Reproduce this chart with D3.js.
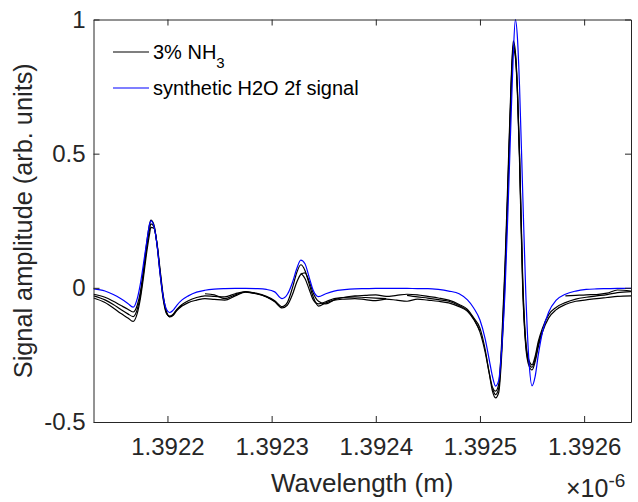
<!DOCTYPE html>
<html>
<head>
<meta charset="utf-8">
<script src="https://cdn.jsdelivr.net/npm/d3@7"></script>
<style>
    body { margin: 0; background: #fff; }
    svg { display: block; font-family: "Liberation Sans", Arial, Helvetica, sans-serif; }
    .axis path, .axis line { stroke: #262626; stroke-width: 1; }
    .axis text { fill: #262626; font-size: 24px; }
    .line { fill: none; stroke-width: 1.2; }
</style>
</head>
<body>
<div class="lineChart"></div>
<script>
const WIDTH = 638;
const HEIGHT = 502;
const MARGIN = {top: 19.5, right: 7, bottom: 80, left: 93.5};

const INNER_WIDTH = WIDTH - MARGIN.left - MARGIN.right;
const INNER_HEIGHT = HEIGHT - MARGIN.top - MARGIN.bottom;

// wavelength in units of 1e-6 m
var wavelength = [
    1.392129, 1.39214, 1.392148, 1.392155, 1.392162, 1.392167, 1.392171, 1.392174, 1.392177, 1.39218,
    1.392183, 1.392184, 1.392187, 1.39219, 1.392193, 1.392196, 1.392199, 1.392202, 1.392205, 1.392209,
    1.392214, 1.39222, 1.392228, 1.392236, 1.392245, 1.392255, 1.392265, 1.392275, 1.392285, 1.392295,
    1.392303, 1.39231, 1.392315, 1.39232, 1.392324, 1.392328, 1.392332, 1.392336, 1.39234, 1.392345,
    1.392352, 1.39236, 1.39237, 1.39238, 1.39239, 1.3924, 1.39241, 1.39242, 1.39243, 1.39244,
    1.39245, 1.39246, 1.39247, 1.39248, 1.392488, 1.392494, 1.3925, 1.392505, 1.392509, 1.392512,
    1.392515, 1.392518, 1.392521, 1.392524, 1.392527, 1.39253, 1.392532, 1.392534, 1.392536, 1.392538,
    1.392541, 1.392544, 1.392547, 1.39255, 1.392553, 1.392556, 1.39256, 1.392566, 1.392573, 1.392582,
    1.392592, 1.392602, 1.392612, 1.392622, 1.392632, 1.392645
];

var synthH2O = [
    -0.004, -0.012, -0.025, -0.04, -0.058, -0.072, -0.04, 0.015, 0.09, 0.17,
    0.24, 0.25, 0.23, 0.16, 0.05, -0.035, -0.08, -0.092, -0.085, -0.065,
    -0.045, -0.03, -0.016, -0.009, -0.005, -0.003, -0.002, -0.002, -0.003, -0.006,
    -0.015, -0.04, -0.025, 0.02, 0.07, 0.103, 0.09, 0.04, -0.01, -0.033,
    -0.022, -0.012, -0.007, -0.004, -0.003, -0.002, -0.002, -0.002, -0.002, -0.003,
    -0.003, -0.006, -0.012, -0.022, -0.045, -0.075, -0.12, -0.19, -0.27, -0.33,
    -0.366, -0.345, -0.22, -0.02, 0.3, 0.65, 0.87, 1.0, 0.93, 0.75,
    0.36, -0.02, -0.27, -0.365, -0.33, -0.25, -0.165, -0.09, -0.047, -0.024,
    -0.012, -0.006, -0.004, -0.003, -0.002, -0.002
];

var nh3RunA = [
    -0.024, -0.035, -0.05, -0.065, -0.08, -0.09, -0.065, -0.015, 0.07, 0.165,
    0.24, 0.252, 0.235, 0.16, 0.05, -0.045, -0.095, -0.105, -0.1, -0.08,
    -0.062, -0.048, -0.036, -0.03, -0.032, -0.034, -0.022, -0.014, -0.02, -0.032,
    -0.048, -0.07, -0.055, 0.0, 0.055, 0.086, 0.065, 0.015, -0.035, -0.068,
    -0.056, -0.046, -0.042, -0.04, -0.044, -0.048, -0.042, -0.046, -0.05, -0.042,
    -0.046, -0.05, -0.056, -0.07, -0.088, -0.118, -0.165, -0.24, -0.32, -0.37,
    -0.385, -0.36, -0.19, 0.08, 0.43, 0.78, 0.92, 0.88, 0.74, 0.5,
    0.04, -0.2, -0.27, -0.287, -0.255, -0.2, -0.15, -0.1, -0.073, -0.055,
    -0.042, -0.035, -0.03, -0.025, -0.018, -0.014
];

var nh3RunB = [
    -0.038, -0.055, -0.075, -0.095, -0.112, -0.125, -0.095, -0.04, 0.04, 0.13,
    0.205, 0.225, 0.222, 0.165, 0.065, -0.03, -0.088, -0.108, -0.104, -0.085,
    -0.068, -0.055, -0.046, -0.04, -0.043, -0.046, -0.03, -0.016, -0.022, -0.034,
    -0.052, -0.075, -0.065, -0.025, 0.02, 0.05, 0.056, 0.025, -0.02, -0.05,
    -0.06, -0.045, -0.035, -0.03, -0.028, -0.026, -0.032, -0.028, -0.024, -0.026,
    -0.032, -0.038, -0.046, -0.062, -0.08, -0.112, -0.15, -0.23, -0.32, -0.385,
    -0.41, -0.39, -0.24, 0.03, 0.38, 0.74, 0.89, 0.86, 0.72, 0.47,
    0.0, -0.22, -0.29, -0.306, -0.275, -0.22, -0.165, -0.112, -0.082, -0.062,
    -0.05, -0.045, -0.04, -0.036, -0.032, -0.03
];

// third run has dropouts (null)
var nh3RunC = [
    -0.03, -0.045, -0.062, -0.08, -0.097, -0.107, -0.08, -0.028, 0.055, 0.148,
    0.222, 0.238, 0.228, 0.162, 0.058, -0.038, -0.092, -0.107, -0.102, -0.082,
    -0.065, null, null, -0.022, -0.026, -0.04, -0.026, -0.015, -0.021, -0.033,
    -0.05, null, null, null, null, 0.055, 0.035, -0.005, -0.045, -0.06,
    -0.052, -0.04, -0.036, -0.034, -0.036, -0.038, -0.04, null, -0.028, -0.034,
    -0.038, -0.044, -0.05, -0.066, -0.085, -0.115, -0.16, null, null, -0.375,
    -0.398, -0.375, -0.215, 0.055, 0.4, 0.76, 0.905, 0.87, 0.73, 0.49,
    0.02, -0.21, -0.28, -0.296, -0.265, -0.21, -0.158, null, null, -0.03,
    -0.028, -0.026, -0.025, -0.02, -0.008, -0.012
];

var xTicks = [1.3922, 1.3923, 1.3924, 1.3925, 1.3926];
var yTicks = [-0.5, 0, 0.5, 1];
var legendLabels = ["3% NH", "synthetic H2O 2f signal"];

var xScale = d3.scaleLinear().range([0, INNER_WIDTH]).domain([1.392129, 1.392645]);
var yScale = d3.scaleLinear().range([INNER_HEIGHT, 0]).domain([-0.5, 1]);

function setupSvg() {
    var svg = d3.select('.lineChart').append('svg')
        .attr('width', WIDTH)
        .attr('height', HEIGHT);
    svg.append('defs').append('clipPath').attr('id', 'plotClip')
        .append('rect').attr('x', 0).attr('y', -1).attr('width', INNER_WIDTH).attr('height', INNER_HEIGHT + 2);
    svg.append('g')
        .attr('class', 'plot')
        .attr('transform', 'translate(' + MARGIN.left + ',' + MARGIN.top + ')');
}

function drawAxis() {
    var g = d3.select('svg g.plot');
    var xAxis = d3.axisBottom(xScale).tickValues(xTicks).tickSizeInner(-6).tickSizeOuter(0)
        .tickPadding(16).tickFormat(d3.format('.4f'));
    var yAxis = d3.axisLeft(yScale).tickValues(yTicks).tickSizeInner(-6).tickSizeOuter(0)
        .tickPadding(8).tickFormat(function (d) { return d; });
    var xTop = d3.axisTop(xScale).tickValues(xTicks).tickSizeInner(-6).tickSizeOuter(0).tickFormat('');
    var yRight = d3.axisRight(yScale).tickValues(yTicks).tickSizeInner(-6).tickSizeOuter(0).tickFormat('');

    g.append('g').attr('class', 'axis').attr('transform', 'translate(0,' + INNER_HEIGHT + ')').call(xAxis);
    g.append('g').attr('class', 'axis').call(yAxis);
    g.append('g').attr('class', 'axis').call(xTop);
    g.append('g').attr('class', 'axis').attr('transform', 'translate(' + INNER_WIDTH + ',0)').call(yRight);
    g.selectAll('.axis').attr('font-family', null).attr('font-size', null);
}

function drawLabels() {
    var svg = d3.select('svg');
    svg.append('text')
        .attr('x', MARGIN.left + INNER_WIDTH / 2)
        .attr('y', 492)
        .attr('text-anchor', 'middle')
        .attr('font-size', 26)
        .attr('fill', '#262626')
        .text('Wavelength (m)');
    svg.append('text')
        .attr('transform', 'translate(32,' + (MARGIN.top + INNER_HEIGHT / 2) + ') rotate(-90)')
        .attr('text-anchor', 'middle')
        .attr('font-size', 25.3)
        .attr('fill', '#262626')
        .text('Signal amplitude (arb. units)');
    var exp = svg.append('text')
        .attr('x', 566)
        .attr('y', 497)
        .attr('font-size', 25)
        .attr('fill', '#262626');
    exp.append('tspan').text('\u00d710');
    exp.append('tspan').attr('font-size', 19).attr('dy', -10).text('-6');
}

function drawLineChart(values, color) {
    var line = d3.line()
        .defined(function (d) { return d != null; })
        .x(function (d, i) { return xScale(wavelength[i]); })
        .y(function (d) { return yScale(d); })
        .curve(d3.curveMonotoneX);
    d3.select('svg g.plot').append('path')
        .attr('d', line(values))
        .attr('class', 'line')
        .attr('clip-path', 'url(#plotClip)')
        .attr('stroke', color);
}

function drawLegend() {
    var svg = d3.select('svg');
    var colors = ['#000000', '#0000ff'];
    legendLabels.forEach(function (label, i) {
        var y = 52 + i * 36;
        svg.append('line')
            .attr('x1', 113).attr('x2', 149)
            .attr('y1', y).attr('y2', y)
            .attr('stroke', colors[i]).attr('stroke-width', 1.2);
        var t = svg.append('text')
            .attr('x', 153).attr('y', y + 7)
            .attr('font-size', 20)
            .attr('fill', '#000');
        t.append('tspan').text(label);
        if (i === 0) {
            t.append('tspan').attr('font-size', 15).attr('dy', 9).text('3');
        }
    });
}

setupSvg();
drawLineChart(nh3RunB, '#000000');
drawLineChart(nh3RunC, '#000000');
drawLineChart(nh3RunA, '#000000');
drawLineChart(synthH2O, '#0000ff');
drawAxis();
drawLabels();
drawLegend();
</script>
</body>
</html>
